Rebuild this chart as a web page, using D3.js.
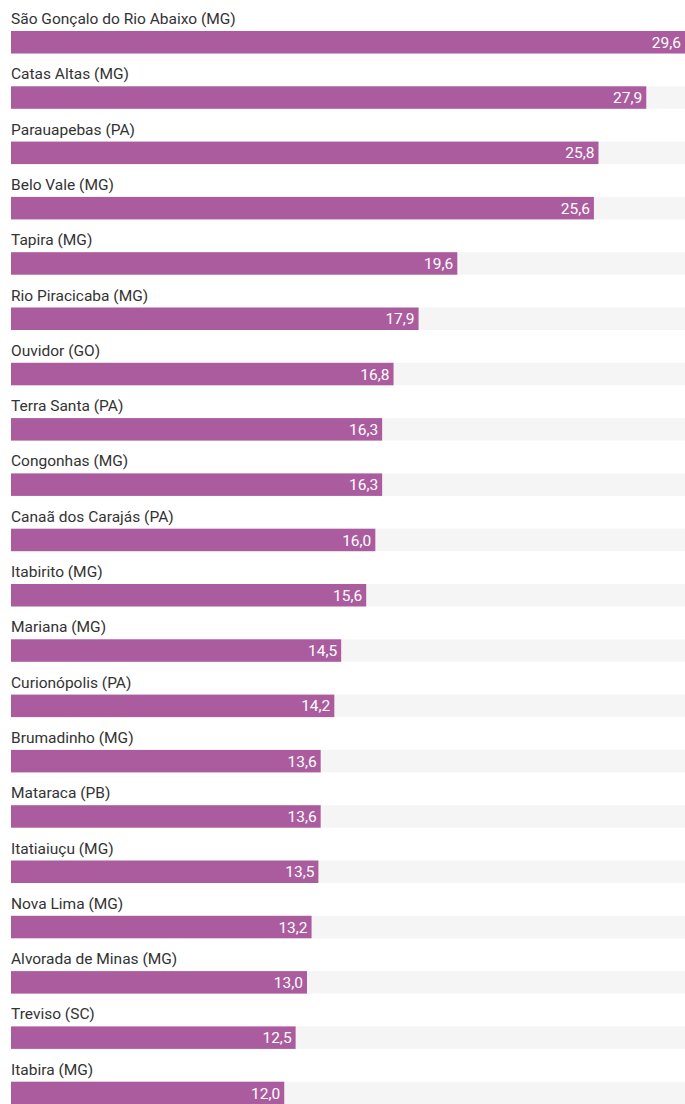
<!DOCTYPE html>
<html>
<head>
<meta charset="utf-8">
<script src="https://cdn.jsdelivr.net/npm/d3@7"></script>
<style>
  body { margin: 0; background: #fff; }
  text { font-family: "Liberation Sans Narrow", "Roboto", sans-serif; }
</style>
</head>
<body>
<div id="chart"></div>
<script>
const cities = [
  "São Gonçalo do Rio Abaixo (MG)", "Catas Altas (MG)", "Parauapebas (PA)", "Belo Vale (MG)",
  "Tapira (MG)", "Rio Piracicaba (MG)", "Ouvidor (GO)", "Terra Santa (PA)", "Congonhas (MG)",
  "Canaã dos Carajás (PA)", "Itabirito (MG)", "Mariana (MG)", "Curionópolis (PA)",
  "Brumadinho (MG)", "Mataraca (PB)", "Itatiaiuçu (MG)", "Nova Lima (MG)",
  "Alvorada de Minas (MG)", "Treviso (SC)", "Itabira (MG)"
];
const values = [29.6, 27.9, 25.8, 25.6, 19.6, 17.9, 16.8, 16.3, 16.3, 16.0,
  15.6, 14.5, 14.2, 13.6, 13.6, 13.5, 13.2, 13.0, 12.5, 12.0];

const width = 685, height = 1104;
const marginLeft = 11, marginTop = 3, rowH = 55.3, barH = 22.5;

const svg = d3.select("#chart").append("svg")
  .attr("width", width).attr("height", height);

const x = d3.scaleLinear().domain([0, d3.max(values)]).range([marginLeft, width]);
const y = d3.scaleBand().domain(cities).range([marginTop, marginTop + rowH * cities.length]).padding(0);

const fmt = v => d3.format(".1f")(v).replace(".", ",");

const rows = svg.selectAll("g.row")
  .data(cities.map((c, i) => ({ city: c, value: values[i] })))
  .join("g")
  .attr("class", "row")
  .attr("transform", d => `translate(0,${y(d.city)})`);

// label above bar
rows.append("text")
  .attr("x", marginLeft)
  .attr("y", 21)
  .attr("font-size", 15.5)
  .attr("fill", "#333")
  .text(d => d.city);

// grey track
rows.append("rect")
  .attr("x", marginLeft)
  .attr("y", 28)
  .attr("width", width - marginLeft)
  .attr("height", barH)
  .attr("fill", "#f5f5f5");

rows.append("rect")
  .attr("x", marginLeft)
  .attr("y", 28)
  .attr("width", d => x(d.value) - marginLeft)
  .attr("height", barH)
  .attr("fill", "#ab5c9e");

rows.append("text")
  .attr("x", d => x(d.value) - 4)
  .attr("y", 28 + barH / 2)
  .attr("dy", "0.36em")
  .attr("text-anchor", "end")
  .attr("font-size", 15.5)
  .attr("fill", "#fff")
  .text(d => fmt(d.value));
</script>
</body>
</html>
